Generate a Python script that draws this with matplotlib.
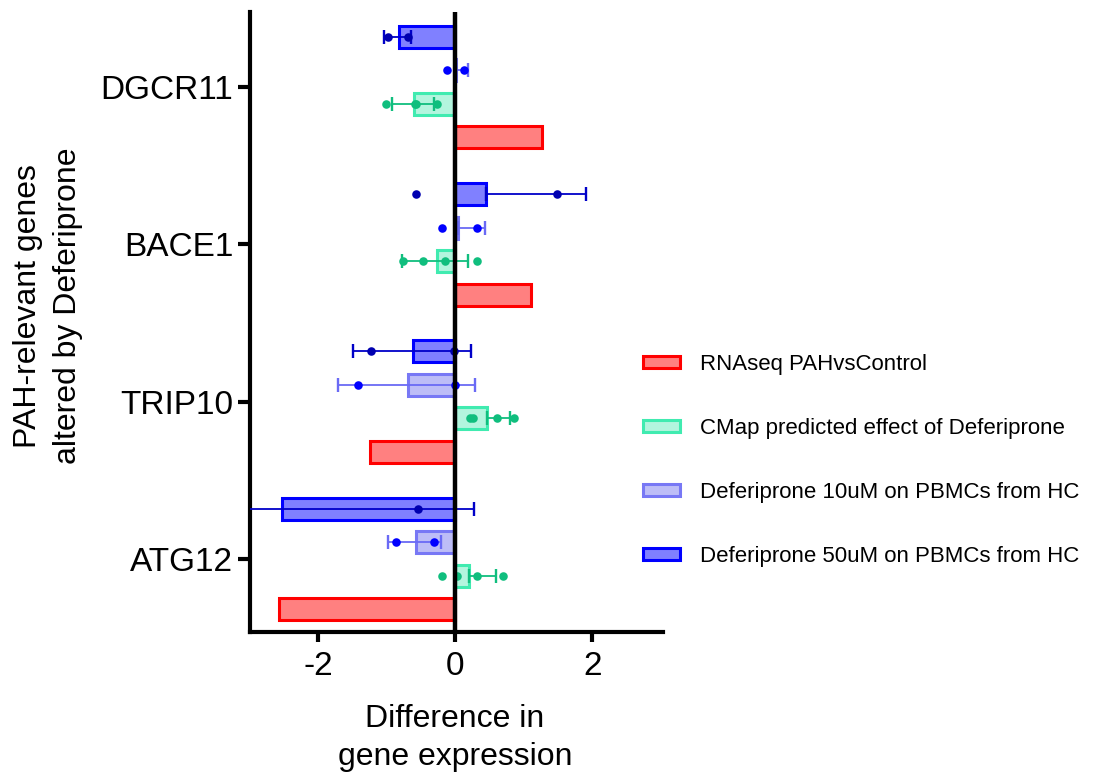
import numpy as np
import matplotlib
matplotlib.use("Agg")
import matplotlib.pyplot as plt

plt.rcParams['font.family'] = ['Liberation Sans', 'DejaVu Sans']
plt.rcParams['axes.unicode_minus'] = False

genes = ['DGCR11', 'BACE1', 'TRIP10', 'ATG12']

# RNAseq PAH vs control (no replicates)
rnaseq = [1.27, 1.11, -1.25, -2.57]

# CMap predicted effect of Deferiprone
cmap_mean = [-0.60, -0.27, 0.46, 0.20]
cmap_lo = [0.32, 0.51, 0.0, 0.0]
cmap_hi = [0.29, 0.46, 0.33, 0.39]
cmap_pts = [[-1.02, -0.59, -0.57, -0.27],
            [-0.77, -0.48, -0.16, 0.32],
            [0.21, 0.26, 0.61, 0.85],
            [-0.19, 0.02, 0.32, 0.70]]

# Deferiprone 10uM
d10_mean = [0.01, 0.04, -0.70, -0.58]
d10_lo = [0.0, 0.0, 1.01, 0.41]
d10_hi = [0.17, 0.39, 0.99, 0.37]
d10_pts = [[-0.13, 0.13], [-0.19, 0.32], [-1.43, 0.0], [-0.87, -0.32]]

# Deferiprone 50uM
d50_mean = [-0.82, 0.44, -0.62, -2.53]
d50_lo = [0.22, 0.0, 0.87, 2.8]
d50_hi = [0.17, 1.47, 0.84, 2.8]
d50_pts = [[-0.98, -0.70], [-0.57, 1.48], [-1.24, -0.02], [-0.55]]

fig = plt.figure(figsize=(11.01, 7.75), dpi=100)
ax = fig.add_axes([250/1101, 1-632/775, 413/1101, 620/775])

y = np.arange(len(genes))
h = 0.14

series = [
    # label, mean, lo, hi, pts, offset, face, edge, errcolor, dotcolor
    ('Deferiprone 50uM on PBMCs from HC', d50_mean, d50_lo, d50_hi, d50_pts, -0.32,
     '#8080FF', '#0000FF', '#0000C8', '#0000B0'),
    ('Deferiprone 10uM on PBMCs from HC', d10_mean, d10_lo, d10_hi, d10_pts, -0.107,
     '#BDBDF7', '#7878F5', '#6A6AF5', '#0000FF'),
    ('CMap predicted effect of Deferiprone', cmap_mean, cmap_lo, cmap_hi, cmap_pts, 0.107,
     '#B3F5DE', '#40EBB0', '#10BE7E', '#10BE7E'),
    ('RNAseq PAHvsControl', rnaseq, None, None, None, 0.32,
     '#FF8080', '#FF0000', None, None),
]

handles = {}
for lab, mean, lo, hi, pts, off, fc, ec, errc, dotc in series:
    yy = y + off
    b = ax.barh(yy, mean, height=h, color=fc, edgecolor=ec, linewidth=2.2, zorder=2, label=lab)
    handles[lab] = b
    if lo is not None:
        ax.errorbar(mean, yy, xerr=[lo, hi], fmt='none', ecolor=errc, elinewidth=1.3,
                    capsize=5, capthick=1.7, zorder=3)
        for i, p in enumerate(pts):
            ax.scatter(p, [yy[i]] * len(p), s=38, color=dotc, zorder=4, linewidths=0)

ax.axvline(0, color='black', lw=3.2, zorder=5)

ax.set_xlim(-3.0, 3.03)
ax.set_ylim(3.465, -0.478)
ax.set_yticks(y)
ax.set_yticklabels(genes, fontsize=24)
ax.set_xticks([-2, 0, 2])
ax.set_xticklabels(['-2', '0', '2'], fontsize=24)
ax.spines['top'].set_visible(False)
ax.spines['right'].set_visible(False)
ax.spines['left'].set_linewidth(3)
ax.spines['bottom'].set_linewidth(3)
ax.tick_params(axis='y', length=9, width=3, pad=3)
ax.tick_params(axis='x', length=7, width=3, pad=7)

fig.text(48/1101, 1-306/775, 'PAH-relevant genes\naltered by Deferiprone', rotation=90,
         ha='center', va='center', fontsize=23, linespacing=1.4, multialignment='center')
fig.text(455/1101, 1-738/775, 'Difference in\ngene expression', ha='center', va='center',
         fontsize=23, linespacing=1.35, multialignment='center')

order = ['RNAseq PAHvsControl', 'CMap predicted effect of Deferiprone',
         'Deferiprone 10uM on PBMCs from HC', 'Deferiprone 50uM on PBMCs from HC']
fig.legend([handles[k] for k in order], order, loc='upper left',
           bbox_to_anchor=(643/1101, 1-354/775), frameon=False, fontsize=16,
           handlelength=1.65, handleheight=0.45, handletextpad=0.9, labelspacing=1.93,
           borderpad=0, borderaxespad=0)

fig.savefig('out.png', dpi=100)
